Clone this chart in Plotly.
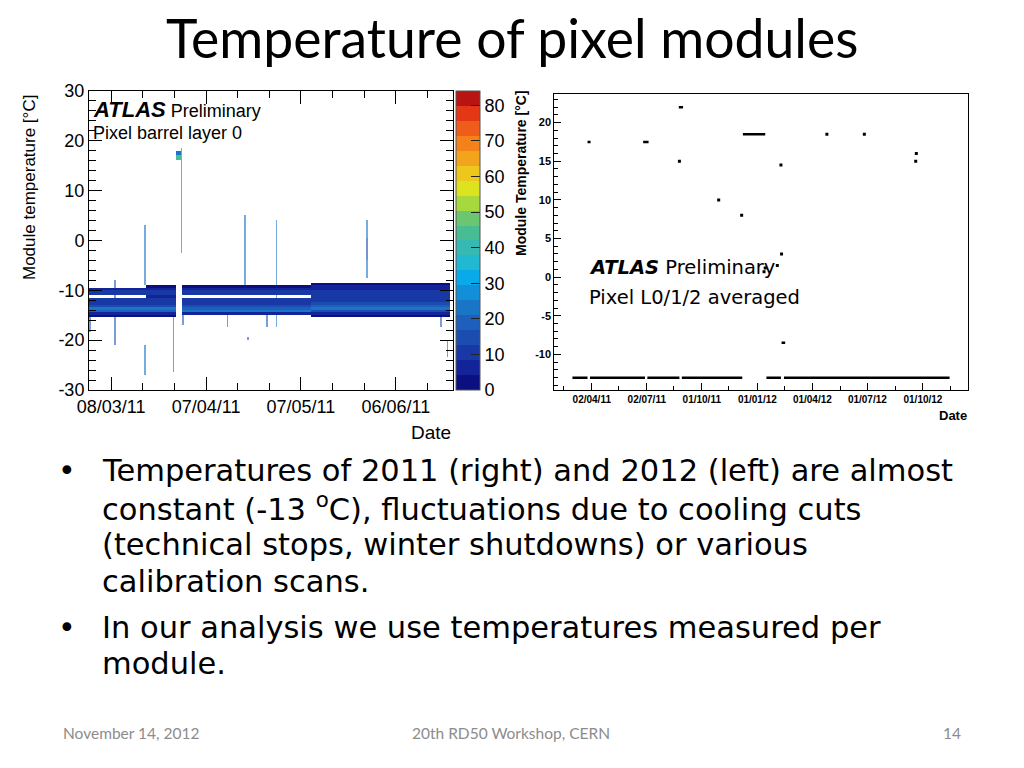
import numpy as np
import pandas as pd
import plotly.graph_objects as go

W, H = 1024, 768

# ---------------- LEFT: 2D histogram (module temperature vs date, 2011) ----------------
band_temps = [-16.0, -15.5, -15.0, -14.5, -14.0, -13.5, -13.0, -12.5, -12.0, -11.5, -11.0, -10.5, -10.0, -9.5, -9.0]
band_seg_start = ["2011-03-01", "2011-03-19", "2011-03-30 12:00", "2011-05-10"]
band_seg_end = ["2011-03-19", "2011-03-28 12:00", "2011-05-10", "2011-06-23"]
band_profile_1 = [0, 4, 6, 19, 22, 16, 12, 11, 10, 0, 10, 9, 5, 0, 0]
band_profile_2 = [0, 3, 6, 18, 21, 15, 11, 10, 10, 8, 9, 9, 7, 4, 0]
band_profile_3 = [0, 0, 5, 21, 20, 14, 11, 10, 9, 0, 9, 9, 8, 4, 0]
band_profile_4 = [0, 2, 6, 16, 22, 20, 13, 11, 10, 10, 9, 9, 8, 5, 2]
band_profiles = [band_profile_1, band_profile_2, band_profile_3, band_profile_4]

spike_dates = ["2011-03-01", "2011-03-09 06:00", "2011-03-18 18:00", "2011-03-18 18:00", "2011-03-28",
               "2011-03-30 06:00", "2011-03-30 18:00", "2011-04-13 18:00", "2011-04-19 06:00",
               "2011-04-20 06:00", "2011-04-26 06:00", "2011-04-29 12:00", "2011-05-27 18:00",
               "2011-05-27 18:00", "2011-06-20 12:00", "2011-06-22 06:00"]
spike_low = [-18.5, -21.0, -9.0, -27.0, -26.5, -2.5, -17.0, -17.5, -9.0, -20.0, -17.5, -17.5, -7.5, -4.0, -17.5, -23.5]
spike_high = [-15.5, -8.5, 2.5, -21.5, -15.5, 18.0, -15.0, -15.0, 4.5, -20.0, -15.0, 3.5, 3.5, 0.0, -15.0, -20.5]
spike_count = [18, 20, 22, 22, 20, 22, 20, 20, 22, 20, 20, 22, 22, 16, 20, 18]

blob_start = ["2011-03-28 12:00", "2011-03-28 12:00"]
blob_end = ["2011-03-30", "2011-03-30"]
blob_temps = [16.0, 17.0]
blob_count = [45, 24]

left_tick_dates = ["2011-03-08", "2011-04-07", "2011-05-07", "2011-06-06"]
left_tick_text = ["08/03/11", "07/04/11", "07/05/11", "06/06/11"]
left_minor_dates = ["2011-03-18", "2011-03-28", "2011-04-17", "2011-04-27",
                    "2011-05-17", "2011-05-27", "2011-06-16"]
left_y_ticks = [-30, -20, -10, 0, 10, 20, 30]
left_y_text = ["-30", "-20", "-10", "0", "10", "20", "30"]
cbar_ticks = [0, 10, 20, 30, 40, 50, 60, 70, 80]

# ---------------- RIGHT: averaged temperature 2011-2012 ----------------
line_start = ["2011-03-01", "2011-03-30", "2011-07-03", "2011-08-29", "2012-01-16", "2012-02-14",
              "2011-03-26", "2011-06-26", "2011-08-24", "2011-12-08", "2012-02-10"]
line_end = ["2011-03-26", "2011-06-29", "2011-08-25", "2011-12-07", "2012-02-09", "2012-11-14",
            "2011-03-31", "2011-07-05", "2011-08-31", "2012-01-14", "2012-02-16"]
line_temp = [-13, -13, -13, -13, -13, -13, 17.5, 17.5, 22, 18.5, -8.5]

dot_dates = ["2011-08-25", "2011-10-29", "2011-12-06", "2012-02-09", "2012-02-10", "2012-02-03",
             "2012-01-12", "2012-01-14", "2012-04-25", "2012-06-26", "2012-09-20", "2012-09-19"]
dot_temps = [15, 10, 8, 14.5, 3, 1.5, 0.7, 1.2, 18.5, 18.5, 16, 15]

right_tick_dates = ["2011-04-02", "2011-07-02", "2011-10-01", "2012-01-01", "2012-04-01", "2012-07-01", "2012-10-01"]
right_tick_text = ["02/04/11", "02/07/11", "01/10/11", "01/01/12", "01/04/12", "01/07/12", "01/10/12"]
right_minor_dates = ["2011-02-15", "2011-05-17", "2011-08-16", "2011-11-15",
                     "2012-02-15", "2012-05-17", "2012-08-16", "2012-11-15"]
right_y_ticks = [-10, -5, 0, 5, 10, 15, 20]
right_y_text = ["-10", "-5", "0", "5", "10", "15", "20"]

# ---------------- build histogram tables ----------------
edges = pd.date_range("2011-03-01", "2011-06-24", freq="12h")
xc = edges[:-1] + pd.Timedelta(hours=6)
yc = np.arange(-29.75, 30.0, 0.5)
z_band = np.zeros((len(yc), len(xc)))
z_spk = np.zeros((len(yc), len(xc)))


def ybin(t):
    return int(np.clip(np.floor((t + 30) / 0.5), 0, len(yc) - 1))


for s, e, prof in zip(band_seg_start, band_seg_end, band_profiles):
    m = (xc >= pd.Timestamp(s)) & (xc < pd.Timestamp(e))
    for t, c in zip(band_temps, prof):
        z_band[ybin(t), m] = c

for s, e, t, c in zip(blob_start, blob_end, blob_temps, blob_count):
    m = (xc >= pd.Timestamp(s)) & (xc < pd.Timestamp(e))
    z_band[ybin(t), m] = c
    z_band[ybin(t) + 1, m] = c

for d, lo, hi, c in zip(spike_dates, spike_low, spike_high, spike_count):
    xi = int(np.argmin(np.abs((xc - pd.Timestamp(d)).total_seconds())))
    for yi in range(ybin(lo), ybin(hi) + 1):
        if z_band[yi, xi] == 0:
            z_spk[yi, xi] = c

z_band[z_band == 0] = np.nan
z_spk[z_spk == 0] = np.nan

palette = ["#0c0f80", "#13249a", "#1838a6", "#1b4cb0", "#1d5fba", "#1976c6", "#118fd8", "#08aaea",
           "#21b8d2", "#35b9b2", "#48bc93", "#6ac670", "#a6d93d", "#dde31e", "#edc71c", "#f1a41c",
           "#f3821b", "#f05c19", "#e33716", "#b81512"]
n = len(palette)
cscale = []
for i, c in enumerate(palette):
    cscale.append([i / n, c])
    cscale.append([(i + 1) / n, c])

xs = [str(v) for v in xc]
fig = go.Figure()

fig.add_trace(go.Heatmap(
    x=xs, y=yc, z=z_spk, xaxis="x", yaxis="y", opacity=0.6,
    zmin=0, zmax=84, colorscale=cscale, hoverongaps=False, showscale=False))

fig.add_trace(go.Heatmap(
    x=xs, y=yc, z=z_band, xaxis="x", yaxis="y",
    zmin=0, zmax=84, colorscale=cscale, hoverongaps=False,
    colorbar=dict(x=455.7 / W, xanchor="left", y=1 - 390 / H, yanchor="bottom",
                  len=(390 - 90.7) / H, lenmode="fraction", thickness=24,
                  outlinewidth=1, outlinecolor="#555",
                  tickvals=cbar_ticks, ticks="inside", ticklen=9,
                  tickcolor="#222", tickfont=dict(family="Liberation Sans", size=18, color="black"),
                  xpad=0, ypad=0)
))

# right chart traces
lx, ly = [], []
for s, e, t in zip(line_start, line_end, line_temp):
    lx += [s, e, None]
    ly += [t, t, None]
fig.add_trace(go.Scatter(x=lx, y=ly, mode="lines", line=dict(color="black", width=2.5),
                         xaxis="x2", yaxis="y2", showlegend=False))
fig.add_trace(go.Scatter(x=dot_dates, y=dot_temps, mode="markers",
                         marker=dict(color="black", size=3, symbol="square"),
                         xaxis="x2", yaxis="y2", showlegend=False))

lfont = dict(family="Liberation Sans", size=18, color="black")
rfont = dict(family="Liberation Sans", size=11, color="black", weight="bold")

fig.update_layout(
    width=W, height=H, autosize=False,
    margin=dict(l=0, r=0, t=0, b=0, pad=0, autoexpand=False),
    paper_bgcolor="white", plot_bgcolor="white", showlegend=False,
    xaxis=dict(type="date", domain=[89 / W, 452.7 / W], anchor="y", automargin=False,
               range=["2011-03-01", "2011-06-24"],
               tickmode="array", tickvals=left_tick_dates, ticktext=left_tick_text,
               ticks="inside", ticklen=13, tickcolor="black", tickfont=lfont,
               showline=True, linecolor="black", linewidth=1, mirror="ticks",
               showgrid=False, zeroline=False,
               minor=dict(tickvals=left_minor_dates, ticks="inside", ticklen=7, tickcolor="black", showgrid=False)),
    yaxis=dict(domain=[1 - 390 / H, 1 - 90.7 / H], anchor="x", range=[-30, 30], automargin=False,
               tickmode="array", tickvals=left_y_ticks, ticktext=left_y_text,
               ticks="inside", ticklen=13, tickcolor="black", tickfont=lfont,
               showline=True, linecolor="black", linewidth=1, mirror="ticks",
               showgrid=False, zeroline=False,
               minor=dict(tick0=0, dtick=2, ticks="inside", ticklen=7, tickcolor="black", showgrid=False)),
    xaxis2=dict(type="date", domain=[554.3 / W, 968.3 / W], anchor="y2", automargin=False,
                range=["2011-01-30", "2012-12-15"],
                tickmode="array", tickvals=right_tick_dates, ticktext=right_tick_text,
                ticks="inside", ticklen=7, tickcolor="black", tickfont=dict(rfont, size=10),
                showline=True, linecolor="black", linewidth=1, mirror=True,
                showgrid=False, zeroline=False,
                minor=dict(tickvals=right_minor_dates, ticks="inside", ticklen=4, tickcolor="black", showgrid=False)),
    yaxis2=dict(domain=[1 - 390 / H, 1 - 94 / H], anchor="x2", range=[-14.6, 23.7], automargin=False,
                tickmode="array", tickvals=right_y_ticks, ticktext=right_y_text,
                ticks="inside", ticklen=7, tickcolor="black", tickfont=rfont,
                showline=True, linecolor="black", linewidth=1, mirror=True,
                showgrid=False, zeroline=False,
                minor=dict(tick0=0, dtick=1, ticks="inside", ticklen=4, tickcolor="black", showgrid=False)),
)


def ann(text, x, y, size, family="Lato", color="black", xanchor="left", yanchor="middle", angle=0, weight=None):
    f = dict(family=family, size=size, color=color)
    if weight:
        f["weight"] = weight
    fig.add_annotation(text=text, x=x / W, y=1 - y / H, xref="paper", yref="paper",
                       xanchor=xanchor, yanchor=yanchor, showarrow=False, font=f,
                       textangle=angle, align="left", borderpad=0)


# slide title
ann("Temperature of pixel modules", 512, 37, 53.5, xanchor="center")

# left chart texts
ann("Module temperature [°C]", 30, 188, 17, family="Liberation Sans", xanchor="center", angle=-90)
ann("Date", 452, 432, 19, family="Liberation Sans", xanchor="right")
ann("<b><i><span style='font-size:22px'>ATLAS</span></i></b> Preliminary", 92, 110, 18, family="Liberation Sans")
ann("Pixel barrel layer 0", 92, 133, 18, family="Liberation Sans")

# right chart texts
ann("Module Temperature [°C]", 521, 173, 14, family="Liberation Sans", xanchor="center", angle=-90, weight="bold")
ann("Date", 968, 415, 13, family="Liberation Sans", xanchor="right", weight="bold")
ann("<b><i>ATLAS</i></b> Preliminary", 588, 268, 19.5, family="DejaVu Sans")
ann("Pixel L0/1/2 averaged", 588, 298, 19.5, family="DejaVu Sans")

# bullets
bullet_lines = [
    ("Temperatures of 2011 (right) and 2012 (left) are almost", 470, True),
    ("constant (-13 <sup>o</sup>C), fluctuations due to cooling cuts", 507, False),
    ("(technical stops, winter shutdowns) or various", 544, False),
    ("calibration scans.", 581, False),
    ("In our analysis we use temperatures measured per", 627, True),
    ("module.", 663, False),
]
for txt, yy, bul in bullet_lines:
    if bul:
        ann("•", 67, yy, 30, family="DejaVu Sans", xanchor="center")
    ann(txt, 101, yy, 30.5, family="DejaVu Sans")

# footer
ann("November 14, 2012", 62, 733, 15.5, color="#8c8c8c")
ann("20th RD50 Workshop, CERN", 511, 733, 15.5, color="#8c8c8c", xanchor="center")
ann("14", 962, 733, 15.5, color="#8c8c8c", xanchor="right")

fig.write_html("out.html", config={"displayModeBar": False},
               post_script="document.body.style.margin='0px';")
